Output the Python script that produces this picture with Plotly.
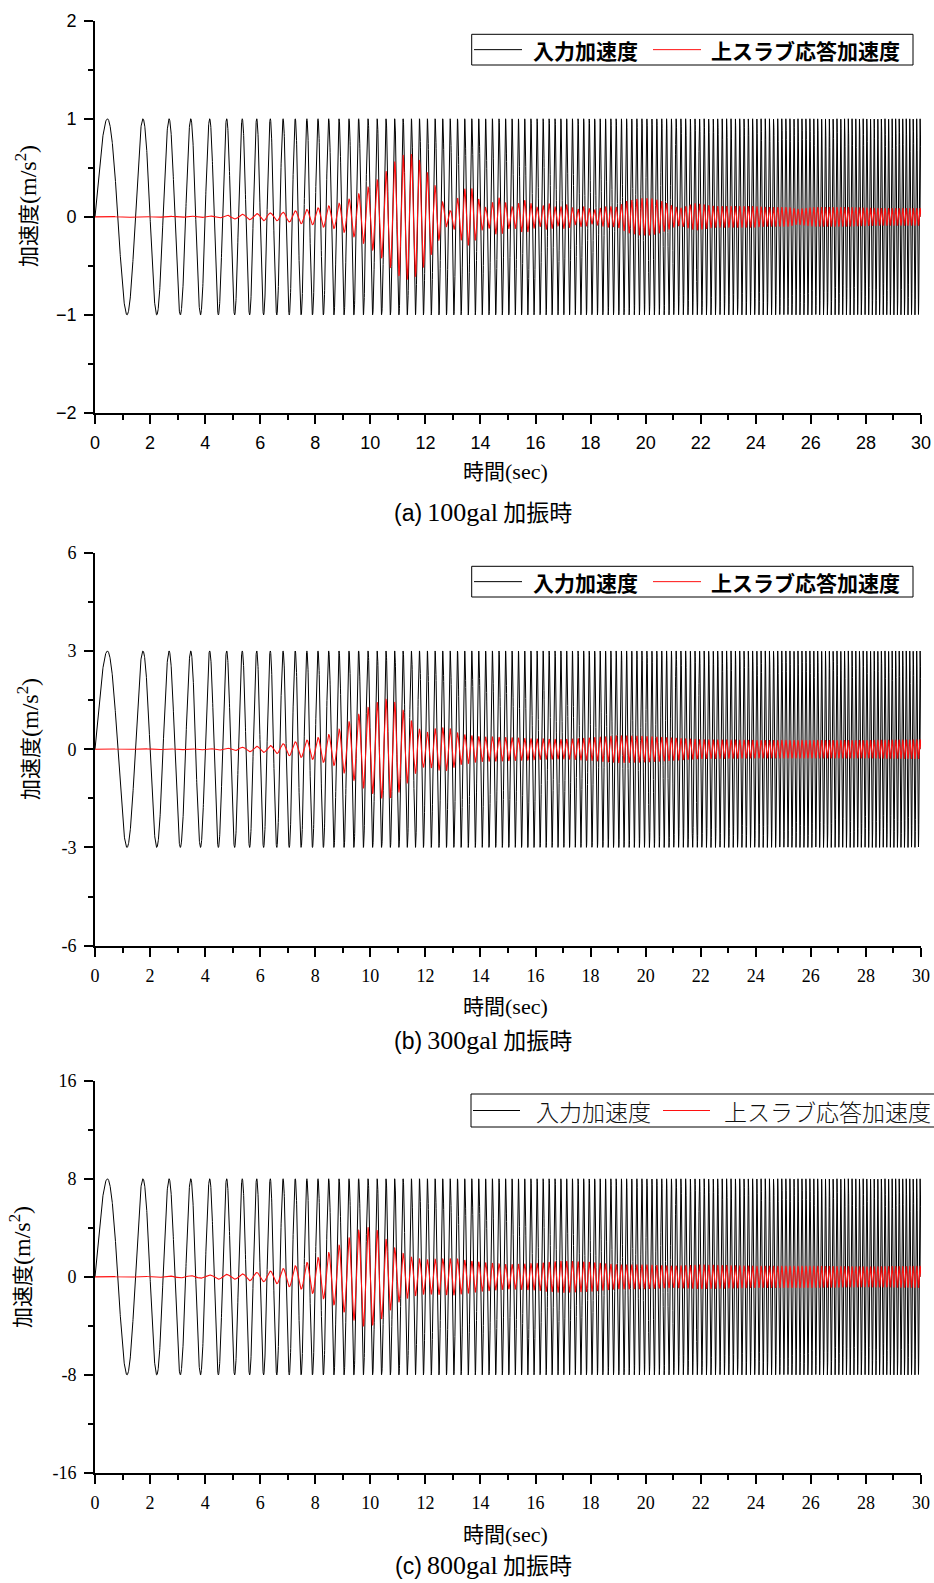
import numpy as np
import plotly.graph_objects as go

W, H = 934, 1583

# ---------------- data ----------------
# Input: swept sine, ~0.5 Hz at t=0 rising to ~8 Hz at t=30 s
sweep_f0 = 0.5
sweep_f1 = 8.0
duration = 30.0
input_amp_a = 1.0
input_amp_b = 3.0
input_amp_c = 8.0

# Response (red) envelope amplitude read at key times
env_t_a = [0, 2, 4, 4.5, 5.2, 5.7, 6.2, 6.6, 7.0, 7.5, 7.9, 8.3, 8.7, 9.06, 9.45, 9.8,
           10.14, 10.5, 10.8, 11.14, 11.47, 11.77, 12.07, 12.39, 12.66, 12.9, 13.14,
           13.44, 13.7, 13.96, 14.2, 14.65, 15.13, 15.59, 15.82, 16.1, 16.46, 16.8,
           17.1, 17.5, 17.7, 18.1, 18.6, 18.95, 19.3, 19.8, 20.2, 20.6, 21.0, 21.25,
           21.8, 22.5, 23.9, 24.4, 25.2, 25.5, 26.1, 27.3, 28.5, 30]
env_a = [0.004, 0.005, 0.008, 0.012, 0.025, 0.03, 0.04, 0.04, 0.05, 0.07, 0.08, 0.105,
         0.12, 0.16, 0.21, 0.28, 0.35, 0.44, 0.54, 0.63, 0.64, 0.58, 0.45, 0.3, 0.13,
         0.06, 0.18, 0.29, 0.29, 0.17, 0.09, 0.2, 0.1, 0.17, 0.14, 0.09, 0.14, 0.09,
         0.13, 0.07, 0.11, 0.07, 0.11, 0.1, 0.16, 0.19, 0.19, 0.16, 0.11, 0.09,
         0.14, 0.11, 0.11, 0.1, 0.1, 0.08, 0.1, 0.1, 0.09, 0.09]

env_t_b = [0, 4, 4.5, 5.2, 5.7, 6.2, 6.6, 7.05, 7.5, 7.9, 8.3, 8.7, 9.1, 9.45, 9.8,
           10.17, 10.5, 10.87, 11.2, 11.5, 11.78, 12.05, 12.35, 12.63, 12.9, 13.14,
           13.4, 14.0, 15.0, 16.0, 17.0, 18.0, 19.0, 20.0, 21.0, 22.0, 24.0, 26.0,
           28.0, 30.0]
env_b = [0.01, 0.02, 0.03, 0.05, 0.08, 0.1, 0.13, 0.2, 0.25, 0.31, 0.4, 0.5, 0.76,
         0.98, 1.22, 1.4, 1.54, 1.45, 1.18, 0.86, 0.62, 0.5, 0.63, 0.66, 0.63, 0.5,
         0.45, 0.38, 0.36, 0.32, 0.3, 0.35, 0.42, 0.4, 0.35, 0.3, 0.28, 0.28, 0.28, 0.3]

env_t_c = [0, 2, 3.8, 4.5, 5.2, 5.7, 6.2, 6.6, 7.05, 7.5, 7.9, 8.5, 9.0, 9.5, 9.8,
           10.2, 10.6, 11.0, 11.5, 12.0, 13.0, 14.0, 15.0, 16.0, 17.0, 18.0, 19.0,
           20.0, 21.0, 22.0, 24.0, 26.0, 28.0, 30.0]
env_c = [0.03, 0.05, 0.1, 0.2, 0.2, 0.33, 0.4, 0.55, 0.8, 1.0, 1.35, 2.0, 2.8, 3.7,
         4.1, 3.9, 3.0, 2.1, 1.6, 1.4, 1.5, 1.2, 1.0, 1.1, 1.3, 1.2, 1.0, 1.0, 0.9,
         1.0, 0.9, 0.9, 0.85, 0.9]

x_tick_vals = [0, 2, 4, 6, 8, 10, 12, 14, 16, 18, 20, 22, 24, 26, 28, 30]
y_ticks_a = [-2, -1, 0, 1, 2]
y_ticks_b = [-6, -3, 0, 3, 6]
y_ticks_c = [-16, -8, 0, 8, 16]
y_ticktext_b = ["-6", "-3", "0", "3", "6"]
y_ticktext_c = ["-16", "-8", "0", "8", "16"]

legend_names = ["入力加速度", "上スラブ応答加速度"]
captions = ["(a)", "(b)", "(c)"]
caption_levels = ["100gal", "300gal", "800gal"]

# ---------------- signals ----------------
t = np.arange(0, duration + 1e-9, 0.004)
k = (sweep_f1 - sweep_f0) / duration
phase = 2 * np.pi * (sweep_f0 * t + 0.5 * k * t ** 2)
carrier = np.sin(phase)

panels = [
    (input_amp_a, env_t_a, env_a),
    (input_amp_b, env_t_b, env_b),
    (input_amp_c, env_t_c, env_c),
]

# ---------------- layout geometry (window pixels) ----------------
X0, X1 = 95, 921
tops = [20.7, 552.7, 1080.7]
bots = [413.0, 945.7, 1473.0]


def px(x):
    return x / W


def py(y):
    return 1 - y / H


fig = go.Figure()

SANS = "Liberation Sans Narrow, Liberation Sans, Arial, sans-serif"
SERIF = "Liberation Serif, Times New Roman, serif"
JP = "Noto Sans CJK JP, sans-serif"

for i, (A, et, ev) in enumerate(panels):
    xa = "x" if i == 0 else f"x{i+1}"
    ya = "y" if i == 0 else f"y{i+1}"
    inp = A * carrier
    resp = np.interp(t, et, ev) * carrier
    fig.add_trace(go.Scatter(x=t, y=inp, mode="lines", xaxis=xa, yaxis=ya,
                             line=dict(color="black", width=1),
                             name=legend_names[0], showlegend=False))
    fig.add_trace(go.Scatter(x=t, y=resp, mode="lines", xaxis=xa, yaxis=ya,
                             line=dict(color="#ff1010", width=1.1),
                             name=legend_names[1], showlegend=False))

axis_common = dict(showline=True, linecolor="black", linewidth=1.6, mirror=False,
                   showgrid=False, zeroline=False, ticks="outside", ticklen=9,
                   tickwidth=1.5, tickcolor="black", automargin=False)

layout = dict(width=W, height=H,
              margin=dict(l=0, r=0, t=0, b=0, pad=0, autoexpand=False),
              paper_bgcolor="white", plot_bgcolor="white", showlegend=False)

yranges = [[-2, 2], [-6, 6], [-16, 16]]
yminor = [0.5, 1.5, 4]
tick_fonts = [dict(family=SANS, size=18, color="black"),
              dict(family=SERIF, size=18, color="black"),
              dict(family=SERIF, size=18, color="black")]

for i in range(3):
    xk = "xaxis" if i == 0 else f"xaxis{i+1}"
    yk = "yaxis" if i == 0 else f"yaxis{i+1}"
    ya = "y" if i == 0 else f"y{i+1}"
    xa = "x" if i == 0 else f"x{i+1}"
    layout[xk] = dict(axis_common, domain=[px(X0), px(X1)], range=[0, 30],
                      anchor=ya, tickmode="array", tickvals=x_tick_vals,
                      ticktext=[str(v) for v in x_tick_vals],
                      tickfont=tick_fonts[i], ticklabelstandoff=4,
                      minor=dict(ticks="outside", ticklen=5, tickwidth=1.5,
                                 tickcolor="black", tickmode="linear", tick0=1, dtick=2,
                                 showgrid=False))
    if i == 0:
        ytv, ytt = y_ticks_a, None
    elif i == 1:
        ytv, ytt = y_ticks_b, y_ticktext_b
    else:
        ytv, ytt = y_ticks_c, y_ticktext_c
    ydict = dict(axis_common, domain=[py(bots[i]), py(tops[i])], range=yranges[i],
                 anchor=xa, tickmode="array", tickvals=ytv,
                 tickfont=tick_fonts[i], ticklabelstandoff=4,
                 minor=dict(ticks="outside", ticklen=5, tickwidth=1.5,
                            tickcolor="black", tickmode="linear",
                            tick0=yranges[i][0] + yminor[i], dtick=2 * yminor[i],
                            showgrid=False))
    if ytt is not None:
        ydict["ticktext"] = ytt
    layout[yk] = ydict

fig.update_layout(**layout)

annotations = []
shapes = []

ytitle_x = [26, 29, 20]
ytitle_y = [206, 739, 1267]
xtitle_y = [470, 1005, 1533]
caption_y = [511, 1039, 1564]

for i in range(3):
    annotations.append(dict(
        x=px(ytitle_x[i]), y=py(ytitle_y[i]), xref="paper", yref="paper",
        xanchor="center", yanchor="middle", textangle=-90, showarrow=False,
        text=("加速度<span style=\"font-family:Liberation Serif;font-size:24px\">"
              "(m/s<sup>2</sup>)</span>"),
        font=dict(family=JP, size=21, color="black")))
    annotations.append(dict(
        x=px(505), y=py(xtitle_y[i]), xref="paper", yref="paper",
        xanchor="center", yanchor="middle", showarrow=False,
        text=("時間<span style=\"font-family:Liberation Serif;font-size:22px\">"
              "(sec)</span>"),
        font=dict(family=JP, size=21, color="black")))
    annotations.append(dict(
        x=px(483), y=py(caption_y[i]), xref="paper", yref="paper",
        xanchor="center", yanchor="middle", showarrow=False,
        text=(f"<span style=\"font-family:Liberation Sans;font-size:23px\">{captions[i]}</span> "
              f"<span style=\"font-family:Liberation Serif;font-size:26px\">{caption_levels[i]}</span>"
              f" 加振時"),
        font=dict(family=JP, size=23, color="black")))

# legends (drawn as boxes + sample lines + labels)
legend_boxes = [(471.7, 34.3, 913, 65), (471.7, 566.3, 913, 597), (471, 1094, 960, 1127)]
for i, (lx0, ly0, lx1, ly1) in enumerate(legend_boxes):
    shapes.append(dict(type="rect", xref="paper", yref="paper",
                       x0=px(lx0), x1=px(lx1), y0=py(ly1), y1=py(ly0),
                       line=dict(color="black", width=1), fillcolor="white", layer="above"))
    cy = (ly0 + ly1) / 2
    if i < 2:
        l1 = (474, 522)
        t1 = 531
        l2 = (653, 701)
        t2 = 709
        fnt = dict(family=JP, size=21, color="black", weight=600)
    else:
        l1 = (473, 520)
        t1 = 534
        l2 = (663, 710)
        t2 = 722
        fnt = dict(family=JP, size=23, color="#111111", weight=300)
    shapes.append(dict(type="line", xref="paper", yref="paper",
                       x0=px(l1[0]), x1=px(l1[1]), y0=py(cy), y1=py(cy),
                       line=dict(color="black", width=1), layer="above"))
    shapes.append(dict(type="line", xref="paper", yref="paper",
                       x0=px(l2[0]), x1=px(l2[1]), y0=py(cy), y1=py(cy),
                       line=dict(color="#ff1010", width=1), layer="above"))
    annotations.append(dict(x=px(t1), y=py(cy), xref="paper", yref="paper",
                            xanchor="left", yanchor="middle", showarrow=False,
                            text=legend_names[0], font=fnt))
    annotations.append(dict(x=px(t2), y=py(cy), xref="paper", yref="paper",
                            xanchor="left", yanchor="middle", showarrow=False,
                            text=legend_names[1], font=fnt))

fig.update_layout(annotations=annotations, shapes=shapes)
fig.write_html(
    "out.html",
    config={"displayModeBar": False},
    post_script="document.body.style.margin='0';document.body.style.overflow='hidden';",
)
